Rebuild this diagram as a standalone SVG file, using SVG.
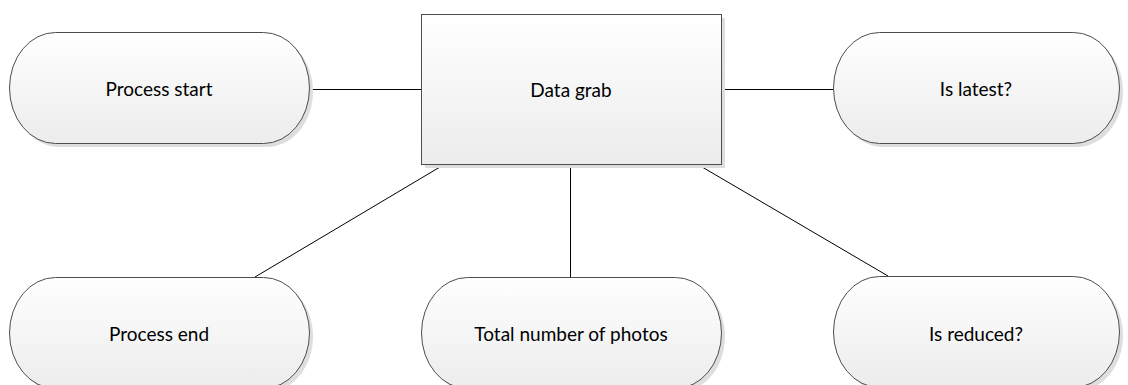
<svg xmlns="http://www.w3.org/2000/svg" width="1128" height="385" viewBox="0 0 1128 385">
  <style>
    .shape { fill: url(#fillGrad); stroke: #4d4d4d; stroke-width: 1; }
    .shadow { fill: #dedede; }
    .label { font-family: Lato, "Open Sans", "Liberation Sans", sans-serif; font-size: 19px; fill: #000; text-anchor: middle; dominant-baseline: central; }
    .link { stroke: #000; stroke-width: 1; fill: none; }
  </style>
  <defs>
    <linearGradient id="fillGrad" x1="0" y1="0" x2="0" y2="1">
      <stop offset="0" stop-color="#ffffff"/>
      <stop offset="1" stop-color="#ececec"/>
    </linearGradient>
  </defs>
  <rect width="1128" height="385" fill="#ffffff"/>

  <!-- connectors -->
  <g id="connectors">
    <line class="link" x1="310" y1="89.5" x2="421" y2="89.5"/>
    <line class="link" x1="722" y1="89.5" x2="833" y2="89.5"/>
    <line class="link" x1="445" y1="164" x2="255" y2="277"/>
    <line class="link" x1="570.5" y1="164" x2="570.5" y2="277"/>
    <line class="link" x1="697" y1="164" x2="888" y2="276"/>
  </g>

  <g id="process-start">
    <rect class="shadow" x="13" y="36" width="300" height="111" rx="46" ry="55.5"/>
    <rect class="shape" x="9.5" y="32.5" width="300" height="111" rx="46" ry="55.5"/>
    <text class="label" x="159" y="88">Process start</text>
  </g>

  <g id="data-grab">
    <rect class="shadow" x="425" y="18" width="300" height="150"/>
    <rect class="shape" x="421.5" y="14.5" width="300" height="150"/>
    <text class="label" x="571" y="89">Data grab</text>
  </g>

  <g id="is-latest">
    <rect class="shadow" x="837" y="36" width="286" height="111" rx="46" ry="55.5"/>
    <rect class="shape" x="833.5" y="32.5" width="286" height="111" rx="46" ry="55.5"/>
    <text class="label" x="976" y="88">Is latest?</text>
  </g>

  <g id="process-end">
    <rect class="shadow" x="13" y="281" width="300" height="111" rx="46" ry="55.5"/>
    <rect class="shape" x="9.5" y="277.5" width="300" height="111" rx="46" ry="55.5"/>
    <text class="label" x="159" y="333">Process end</text>
  </g>

  <g id="total-photos">
    <rect class="shadow" x="425" y="281" width="300" height="111" rx="46" ry="55.5"/>
    <rect class="shape" x="421.5" y="277.5" width="300" height="111" rx="46" ry="55.5"/>
    <text class="label" x="571" y="333">Total number of photos</text>
  </g>

  <g id="is-reduced">
    <rect class="shadow" x="837" y="280" width="286" height="111" rx="46" ry="55.5"/>
    <rect class="shape" x="833.5" y="276.5" width="286" height="111" rx="46" ry="55.5"/>
    <text class="label" x="976" y="333">Is reduced?</text>
  </g>
</svg>
